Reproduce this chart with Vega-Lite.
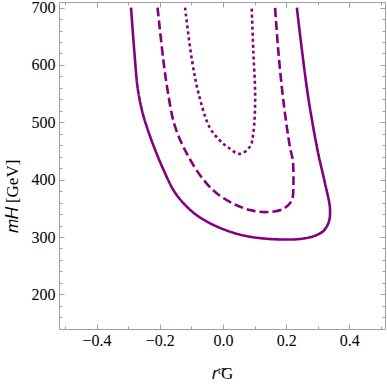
{
  "$schema": "https://vega.github.io/schema/vega-lite/v6.json",
  "width": 326,
  "height": 327,
  "autosize": {"type": "none"},
  "padding": {"left": 59, "top": 2, "right": 2, "bottom": 60},
  "background": "white",
  "config": {
    "view": {"stroke": null},
    "axis": {"labelFont": "Liberation Serif", "titleFont": "Liberation Serif", "labelFontSize": 16, "titleFontSize": 17, "titleFontWeight": "normal", "labelColor": "black", "titleColor": "black", "domainColor": "#a0a0a0", "tickColor": "#a0a0a0", "grid": false}
  },
  "data": {"values": [
    {"x": -0.291, "y": 700, "c": "a", "o": 1},
    {"x": -0.280, "y": 620, "c": "a", "o": 2},
    {"x": -0.270, "y": 560, "c": "a", "o": 3},
    {"x": -0.256, "y": 520, "c": "a", "o": 4},
    {"x": -0.241, "y": 492, "c": "a", "o": 5},
    {"x": -0.214, "y": 451, "c": "a", "o": 6},
    {"x": -0.188, "y": 417, "c": "a", "o": 7},
    {"x": -0.157, "y": 382, "c": "a", "o": 8},
    {"x": -0.125, "y": 359, "c": "a", "o": 9},
    {"x": -0.083, "y": 338, "c": "a", "o": 10},
    {"x": -0.030, "y": 321, "c": "a", "o": 11},
    {"x": 0.033, "y": 307.4, "c": "a", "o": 12},
    {"x": 0.086, "y": 300.4, "c": "a", "o": 13},
    {"x": 0.150, "y": 296.5, "c": "a", "o": 14},
    {"x": 0.212, "y": 295.6, "c": "a", "o": 15},
    {"x": 0.250, "y": 297, "c": "a", "o": 16},
    {"x": 0.285, "y": 301, "c": "a", "o": 17},
    {"x": 0.315, "y": 309, "c": "a", "o": 18},
    {"x": 0.329, "y": 318.6, "c": "a", "o": 19},
    {"x": 0.337, "y": 330, "c": "a", "o": 20},
    {"x": 0.339, "y": 342, "c": "a", "o": 21},
    {"x": 0.338, "y": 355, "c": "a", "o": 22},
    {"x": 0.323, "y": 394, "c": "a", "o": 23},
    {"x": 0.300, "y": 450, "c": "a", "o": 24},
    {"x": 0.271, "y": 540, "c": "a", "o": 25},
    {"x": 0.250, "y": 626, "c": "a", "o": 26},
    {"x": 0.234, "y": 700, "c": "a", "o": 27},
    {"x": -0.207, "y": 700, "c": "b", "o": 1},
    {"x": -0.189, "y": 610, "c": "b", "o": 2},
    {"x": -0.175, "y": 555, "c": "b", "o": 3},
    {"x": -0.153, "y": 495, "c": "b", "o": 4},
    {"x": -0.114, "y": 445, "c": "b", "o": 5},
    {"x": -0.062, "y": 400, "c": "b", "o": 6},
    {"x": -0.019, "y": 376, "c": "b", "o": 7},
    {"x": 0.033, "y": 358, "c": "b", "o": 8},
    {"x": 0.086, "y": 347, "c": "b", "o": 9},
    {"x": 0.139, "y": 343.5, "c": "b", "o": 10},
    {"x": 0.191, "y": 349, "c": "b", "o": 11},
    {"x": 0.218, "y": 364, "c": "b", "o": 12},
    {"x": 0.223, "y": 393, "c": "b", "o": 13},
    {"x": 0.221, "y": 434, "c": "b", "o": 14},
    {"x": 0.212, "y": 457, "c": "b", "o": 15},
    {"x": 0.191, "y": 539, "c": "b", "o": 16},
    {"x": 0.175, "y": 626, "c": "b", "o": 17},
    {"x": 0.165, "y": 700, "c": "b", "o": 18},
    {"x": -0.120, "y": 700, "c": "c", "o": 1},
    {"x": -0.098, "y": 608, "c": "c", "o": 2},
    {"x": -0.077, "y": 550, "c": "c", "o": 3},
    {"x": -0.043, "y": 492, "c": "c", "o": 4},
    {"x": -0.011, "y": 469, "c": "c", "o": 5},
    {"x": 0.017, "y": 456, "c": "c", "o": 6},
    {"x": 0.054, "y": 445, "c": "c", "o": 7},
    {"x": 0.086, "y": 458, "c": "c", "o": 8},
    {"x": 0.096, "y": 481, "c": "c", "o": 9},
    {"x": 0.102, "y": 539, "c": "c", "o": 10},
    {"x": 0.096, "y": 626, "c": "c", "o": 11},
    {"x": 0.091, "y": 700, "c": "c", "o": 12}
  ]},
  "resolve": {"axis": {"x": "independent", "y": "independent"}},
  "layer": [
    {
      "mark": {"type": "line", "interpolate": "catmull-rom", "strokeWidth": 2.6, "color": "#800080", "clip": true},
      "encoding": {
        "x": {"field": "x", "type": "quantitative", "scale": {"domain": [-0.519, 0.513], "nice": false, "zero": false},
          "axis": {"orient": "bottom", "values": [-0.4, -0.2, 0, 0.2, 0.4], "format": ".1f", "tickSize": -5, "labelPadding": 8, "labelFont": "Liberation Serif", "labelFontSize": 16, "title": "𝑟ᵗ̃G", "titlePadding": 17, "titleFont": "Liberation Serif"}},
        "y": {"field": "y", "type": "quantitative", "scale": {"domain": [139.6, 709.8], "nice": false, "zero": false},
          "axis": {"orient": "left", "values": [200, 300, 400, 500, 600, 700], "tickSize": -5, "labelPadding": 9, "labelFont": "Liberation Serif", "labelFontSize": 16, "title": "𝑚𝐻 [GeV]", "titlePadding": 10, "titleY": 194, "titleFont": "Liberation Serif"}},
        "detail": {"field": "c"},
        "order": {"field": "o", "type": "quantitative"},
        "strokeDash": {"field": "c", "type": "nominal", "scale": {"domain": ["a", "b", "c"], "range": [[1, 0], [9, 4], [3, 3]]}, "legend": null}
      }
    },
    {
      "mark": {"type": "line", "opacity": 0},
      "encoding": {
        "x": {"field": "x", "type": "quantitative", "axis": {"orient": "top", "values": [-0.4, -0.2, 0, 0.2, 0.4], "labels": false, "tickSize": -5, "title": null}},
        "y": {"field": "y", "type": "quantitative", "axis": {"orient": "right", "values": [200, 300, 400, 500, 600, 700], "labels": false, "tickSize": -5, "title": null}},
        "detail": {"field": "c"}
      }
    },
    {
      "mark": {"type": "line", "opacity": 0},
      "encoding": {
        "x": {"field": "x", "type": "quantitative", "axis": {"orient": "bottom", "values": [-0.5, -0.3, -0.1, 0.1, 0.3, 0.5], "labels": false, "domain": false, "tickSize": -3, "title": null}},
        "y": {"field": "y", "type": "quantitative", "axis": {"orient": "left", "values": [140, 160, 180, 220, 240, 260, 280, 320, 340, 360, 380, 420, 440, 460, 480, 520, 540, 560, 580, 620, 640, 660, 680], "labels": false, "domain": false, "tickSize": -3, "title": null}},
        "detail": {"field": "c"}
      }
    },
    {
      "mark": {"type": "line", "opacity": 0},
      "encoding": {
        "x": {"field": "x", "type": "quantitative", "axis": {"orient": "top", "values": [-0.5, -0.3, -0.1, 0.1, 0.3, 0.5], "labels": false, "domain": false, "tickSize": -3, "title": null}},
        "y": {"field": "y", "type": "quantitative", "axis": {"orient": "right", "values": [140, 160, 180, 220, 240, 260, 280, 320, 340, 360, 380, 420, 440, 460, 480, 520, 540, 560, 580, 620, 640, 660, 680], "labels": false, "domain": false, "tickSize": -3, "title": null}},
        "detail": {"field": "c"}
      }
    }
  ]
}
